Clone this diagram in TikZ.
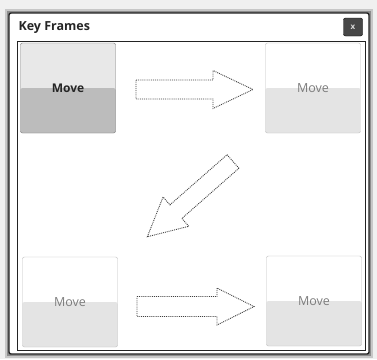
\documentclass[tikz,border=0pt]{standalone}
\usepackage{fontspec}
\setmainfont{Open Sans}
\usetikzlibrary{positioning}
\definecolor{frameDark}{RGB}{35,35,35}
\definecolor{selTop}{RGB}{232,232,232}
\definecolor{selBottom}{RGB}{188,188,188}
\definecolor{selLine}{RGB}{120,120,120}
\definecolor{keyBottom}{RGB}{228,228,228}
\definecolor{keyLine}{RGB}{190,190,190}
\definecolor{keyText}{RGB}{125,125,125}

\begin{document}
\begin{tikzpicture}[
    x=1pt, y=-1pt,
    keybox/.style={rectangle, rounded corners=2pt, draw=keyLine, fill=white, minimum width=95pt, minimum height=90pt, inner sep=0pt, text=keyText, font=\fontsize{12.5}{14}\selectfont,
      path picture={\fill[keyBottom] (path picture bounding box.west) rectangle (path picture bounding box.south east);}},
    selbox/.style={keybox, draw=selLine, fill=selTop, text=black!85, font=\bfseries\fontsize{12}{14}\selectfont,
      path picture={\fill[selBottom] (path picture bounding box.west) rectangle (path picture bounding box.south east);}},
    blockarrow/.style={draw=black!75, densely dotted, line width=0.9pt, fill=white}
]
\useasboundingbox (0,0) rectangle (377,359);
\fill[black!6] (0,0) rectangle (377,359);

% window with shadow
\draw[black!22, line width=8pt] (9,13) rectangle (369,354);
\draw[black!45, line width=4pt] (9,13) rectangle (369,354);
\draw[frameDark, fill=white, line width=1.4pt, rounded corners=2pt] (9,13) rectangle (369,354);
\draw[frameDark, line width=1pt] (17,41) rectangle (365,350);

\node[anchor=west, font=\bfseries\fontsize{12.5}{14}\selectfont, text=black!85] (title) at (15,28) {Key Frames};
\node[rectangle, rounded corners=2pt, draw=black, fill=black!72, minimum width=19pt, minimum height=18pt, inner sep=0pt, text=white!85!black, font=\bfseries\fontsize{8}{8}\selectfont] (closebtn) at (353,27) {x};

% key frames
\node[selbox] (kf1) at (68,88) {Move};
\node[keybox] (kf2) at (313,88) {Move};
\node[keybox] (kf3) at (70,302) {Move};
\node[keybox] (kf4) at (314,301) {Move};

% arrows between frames
\draw[blockarrow, shift={(136,89.5)}] (0,-9.5) -- (77,-9.5) -- (77,-19) -- (117,0) -- (77,19) -- (77,9.5) -- (0,9.5) -- cycle;
\draw[blockarrow, shift={(233,161.5)}, rotate=221.3] (0,-9) -- (76,-9) -- (76,-19.5) -- (114,0) -- (76,19.5) -- (76,9) -- (0,9) -- cycle;
\draw[blockarrow, shift={(137,306.5)}] (0,-10) -- (80,-10) -- (80,-18.5) -- (117,0) -- (80,18.5) -- (80,10) -- (0,10) -- cycle;
\end{tikzpicture}
\end{document}
